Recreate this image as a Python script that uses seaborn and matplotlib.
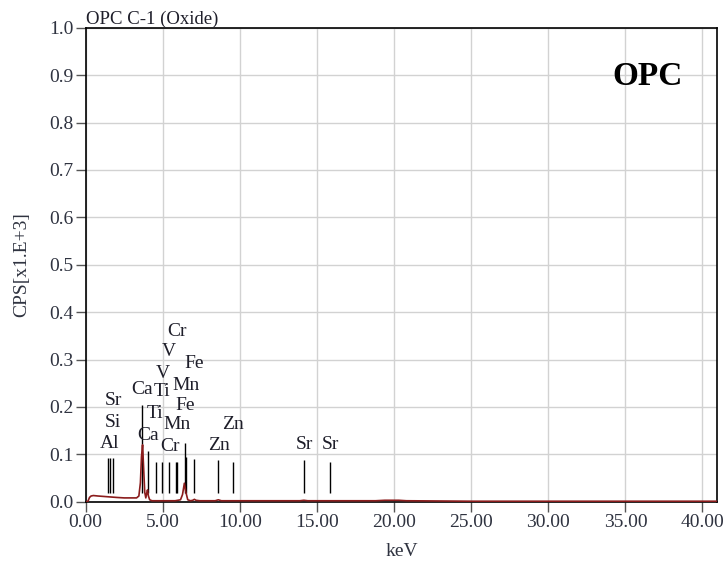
import numpy as np
import pandas as pd
import matplotlib
matplotlib.use("Agg")
import matplotlib.pyplot as plt
import seaborn as sns

# ---- spectrum (keV, CPS x1E3) ----
kev = [0.00, 0.15, 0.25, 0.35, 0.50, 0.80, 1.20, 1.60, 2.00, 2.50, 3.00, 3.30,
       3.45, 3.55, 3.62, 3.69, 3.76, 3.83, 3.90, 3.96, 4.01, 4.07, 4.15, 4.30,
       5.00, 5.80, 6.15, 6.28, 6.40, 6.50, 6.62, 6.80, 6.95, 7.05, 7.15, 7.40,
       8.40, 8.60, 8.80, 9.50, 12.0, 13.9, 14.15, 14.4, 15.8, 18.8, 19.4, 19.9,
       20.3, 20.8, 25.0, 30.0, 35.0, 40.96]
cps = [0.000, 0.001, 0.009, 0.012, 0.013, 0.012, 0.011, 0.010, 0.009, 0.008, 0.008, 0.008,
       0.012, 0.040, 0.095, 0.120, 0.070, 0.020, 0.008, 0.018, 0.025, 0.012, 0.004, 0.002,
       0.002, 0.002, 0.004, 0.015, 0.039, 0.020, 0.004, 0.002, 0.003, 0.005, 0.003, 0.002,
       0.002, 0.004, 0.002, 0.002, 0.002, 0.002, 0.003, 0.002, 0.002, 0.002, 0.003, 0.003,
       0.003, 0.002, 0.001, 0.001, 0.001, 0.001]

# ---- element line markers ----
marker_kev = [1.47, 1.58, 1.75, 3.67, 4.02, 4.54, 4.93, 5.40, 5.88, 5.94,
              6.42, 6.48, 7.04, 8.60, 9.55, 14.13, 15.84]
marker_top = [0.092, 0.092, 0.092, 0.205, 0.107, 0.084, 0.084, 0.084, 0.084, 0.084,
              0.123, 0.095, 0.090, 0.088, 0.083, 0.088, 0.083]

# ---- element labels ----
label_text = ["Al", "Si", "Sr", "Ca", "Ti", "Ti", "Ca", "V", "V", "Cr", "Cr",
              "Mn", "Fe", "Mn", "Fe", "Zn", "Zn", "Sr", "Sr"]
label_kev = [1.58, 1.75, 1.77, 3.65, 4.94, 4.50, 4.02, 4.99, 5.42, 5.90, 5.50,
             5.92, 6.44, 6.50, 7.04, 8.64, 9.57, 14.16, 15.85]
label_y = [0.123, 0.168, 0.213, 0.236, 0.232, 0.187, 0.139, 0.271, 0.316, 0.359, 0.116,
           0.162, 0.204, 0.246, 0.292, 0.119, 0.163, 0.120, 0.120]

xticks = [0, 5, 10, 15, 20, 25, 30, 35, 40]
yticks = [0.0, 0.1, 0.2, 0.3, 0.4, 0.5, 0.6, 0.7, 0.8, 0.9, 1.0]

sns.set_style("white")
plt.rcParams['font.family'] = ['Liberation Serif', 'DejaVu Serif']

fig = plt.figure(figsize=(7.26, 5.62), dpi=100)
ax = fig.add_axes([0.118, 0.1073, 0.870, 0.8434])

df = pd.DataFrame({"keV": kev, "cps": cps})
sns.lineplot(data=df, x="keV", y="cps", ax=ax, color="#8b1c1c", lw=1.2, zorder=3)

ax.vlines(marker_kev, 0.018, marker_top, color="black", lw=1.0, zorder=2)
lab_col = "#1e1e2a"
for t, x, y in zip(label_text, label_kev, label_y):
    ax.text(x, y, t, ha="center", va="center", fontsize=14, color=lab_col)

ax.text(36.45, 0.898, "OPC", ha="center", va="center", fontsize=24,
        fontweight="bold", color="black")

ax.set_xlim(0, 40.96)
ax.set_ylim(0, 1.0)
ax.set_xticks(xticks)
ax.set_yticks(yticks)
ax.set_xticklabels([f"{v:.2f}" for v in xticks])
ax.set_yticklabels([f"{v:.1f}" for v in yticks])
ax.grid(True, color="#d2d2d2", lw=1.0, zorder=0)
ax.set_axisbelow(True)
for s in ax.spines.values():
    s.set_color("black")
    s.set_linewidth(1.2)
    s.set_visible(True)
ax.tick_params(direction="out", length=7, width=1.0, color="#555555",
               labelsize=14, labelcolor="#2f3340", pad=1.5,
               bottom=True, left=True)
ax.set_xlabel("keV", fontsize=14, color="#2f3340", labelpad=9)
ax.set_ylabel("CPS[x1.E+3]", fontsize=14, color="#2f3340", labelpad=14)

fig.text(0.118, 0.958, "OPC C-1 (Oxide)", ha="left", va="baseline",
         fontsize=13.5, color="#1e1e2a")

fig.savefig("out.png", dpi=100)
